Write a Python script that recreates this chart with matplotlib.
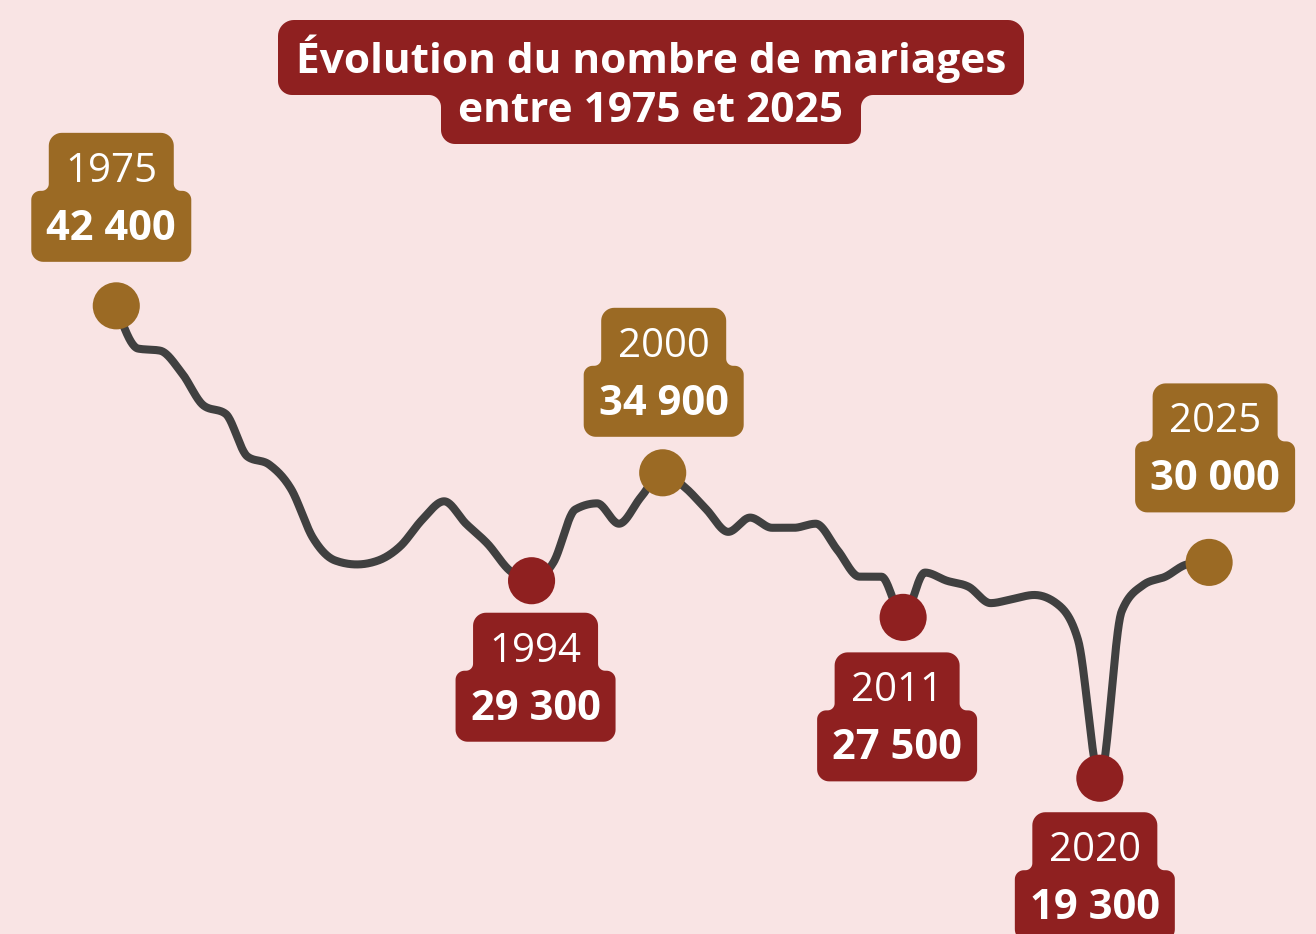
import numpy as np
import matplotlib
matplotlib.use("Agg")
import matplotlib.pyplot as plt
from matplotlib.patches import Polygon
from matplotlib.transforms import IdentityTransform

# Data: number of marriages per year (thousands)
years = list(range(1975, 2026))
marriages = [
    42.7, 40.6, 40.5, 39.4, 37.8, 37.4, 35.3, 34.9, 33.7, 31.3,
    30.2, 30.0, 30.2, 30.9, 32.2, 33.1, 32.0, 31.0, 29.7, 29.2,
    30.1, 32.7, 33.0, 32.0, 33.3, 34.5, 33.8, 32.7, 31.6, 32.3,
    31.8, 31.8, 32.0, 30.7, 29.4, 29.4, 27.4, 29.6, 29.2, 28.9,
    28.1, 28.3, 28.5, 28.1, 26.3, 19.5, 27.7, 29.0, 29.4, 30.0,
    30.1,
]

# Highlighted years and their labels
highlight_years = [1975, 1994, 2000, 2011, 2020, 2025]
highlight_labels = ["42 400", "29 300", "34 900", "27 500", "19 300", "30 000"]
highlight_kind = ["high", "low", "high", "low", "low", "high"]

title_lines = ["Évolution du nombre de mariages", "entre 1975 et 2025"]

# Styles
W, H = 1316, 934
BG = "#f9e4e4"
RED = "#8f2020"
GOLD = "#9b6a24"
LINE = "#404040"
label_gap = [44, 32, 36, 35, 34, 50]  # pixels between dot centre and tag
label_dx = [-5, 4, 1, -6, -5, 6]      # small horizontal nudges of the tags


def monotone_x(x, y, n=40):
    # d3 curveMonotoneX style interpolation
    x = np.asarray(x, float)
    y = np.asarray(y, float)
    h = np.diff(x)
    s = np.diff(y) / h
    t = np.zeros_like(y)
    for i in range(1, len(y) - 1):
        s0, s1 = s[i - 1], s[i]
        p = (s0 * h[i] + s1 * h[i - 1]) / (h[i - 1] + h[i])
        t[i] = (np.sign(s0) + np.sign(s1)) * min(abs(s0), abs(s1), 0.5 * abs(p))
    t[0] = (3 * s[0] - t[1]) / 2
    t[-1] = (3 * s[-1] - t[-2]) / 2
    xs, ys = [], []
    u = np.linspace(0, 1, n)
    for i in range(len(x) - 1):
        h00 = 2 * u**3 - 3 * u**2 + 1
        h10 = u**3 - 2 * u**2 + u
        h01 = -2 * u**3 + 3 * u**2
        h11 = u**3 - u**2
        xs.append(x[i] + h[i] * u)
        ys.append(h00 * y[i] + h10 * h[i] * t[i] + h01 * y[i + 1] + h11 * h[i] * t[i + 1])
    return np.concatenate(xs), np.concatenate(ys)


def rounded_outline(corners, radii, n=12):
    # rounds every corner of an axis aligned polygon (pixel coords, y down)
    pts = []
    k = len(corners)
    for i in range(k):
        p = np.array(corners[i], float)
        prev = np.array(corners[i - 1], float)
        nxt = np.array(corners[(i + 1) % k], float)
        d_in = (p - prev) / np.linalg.norm(p - prev)
        d_out = (nxt - p) / np.linalg.norm(nxt - p)
        r = radii[i]
        st = p - d_in * r
        en = p + d_out * r
        c = st + d_out * r
        a0 = np.arctan2(st[1] - c[1], st[0] - c[0])
        a1 = np.arctan2(en[1] - c[1], en[0] - c[0])
        da = (a1 - a0 + np.pi) % (2 * np.pi) - np.pi
        a = a0 + da * np.linspace(0, 1, n)
        pts.extend(np.column_stack([c[0] + r * np.cos(a), c[1] + r * np.sin(a)]))
    pts = np.array(pts)
    pts[:, 1] = H - pts[:, 1]
    return pts


def draw_shape(ax, corners, radii, color):
    poly = Polygon(rounded_outline(corners, radii), closed=True, facecolor=color,
                   edgecolor="none", transform=IdentityTransform(), clip_on=False, zorder=4)
    ax.add_patch(poly)


def px_text(ax, x, y, s, size, weight, color="white"):
    ax.text(x, H - y, s, transform=IdentityTransform(), ha="center", va="baseline",
            fontsize=size, fontweight=weight, color=color, family=["Open Sans", "DejaVu Sans"],
            zorder=5)


fig = plt.figure(figsize=(W / 100, H / 100), dpi=100, facecolor=BG)
ax = fig.add_axes([0, 0, 1, 1])
ax.set_facecolor(BG)
ax.set_xlim(1969.68, 2029.89)
ax.set_ylim(11.85, 57.72)
ax.axis("off")

# smooth line
cx, cy = monotone_x(years, marriages)
ax.plot(cx, cy, color=LINE, lw=5.8, solid_capstyle="round", solid_joinstyle="round", zorder=2)

# dots + tags
for i, yr in enumerate(highlight_years):
    val = marriages[years.index(yr)]
    col = GOLD if highlight_kind[i] == "high" else RED
    ax.scatter([yr], [val], s=1150, color=col, edgecolor="none", zorder=3)

    dx, dy = ax.transData.transform((yr, val))
    dx = dx + label_dx[i]
    dy = H - dy
    wt, wb, ht, hb = 125, 160, 58, 71
    if highlight_kind[i] == "high":
        top = dy - label_gap[i] - ht - hb
    else:
        top = dy + label_gap[i]
    J = top + ht
    B = J + hb
    corners = [(dx - wt / 2, top), (dx + wt / 2, top), (dx + wt / 2, J), (dx + wb / 2, J),
               (dx + wb / 2, B), (dx - wb / 2, B), (dx - wb / 2, J), (dx - wt / 2, J)]
    draw_shape(ax, corners, [13, 13, 7, 9, 12, 12, 9, 7], col)
    px_text(ax, dx, top + 49, str(yr), 29, "normal")
    px_text(ax, dx, top + 107, highlight_labels[i], 30, "bold")

# title box
title_corners = [(278, 20), (1024, 20), (1024, 95), (861, 95),
                 (861, 144), (441, 144), (441, 95), (278, 95)]
draw_shape(ax, title_corners, [16, 16, 14, 12, 14, 14, 12, 14], RED)
px_text(ax, 651, 73, title_lines[0], 30.5, "bold")
px_text(ax, 651, 122, title_lines[1], 30.5, "bold")

fig.savefig("out.png", dpi=100, facecolor=BG)
